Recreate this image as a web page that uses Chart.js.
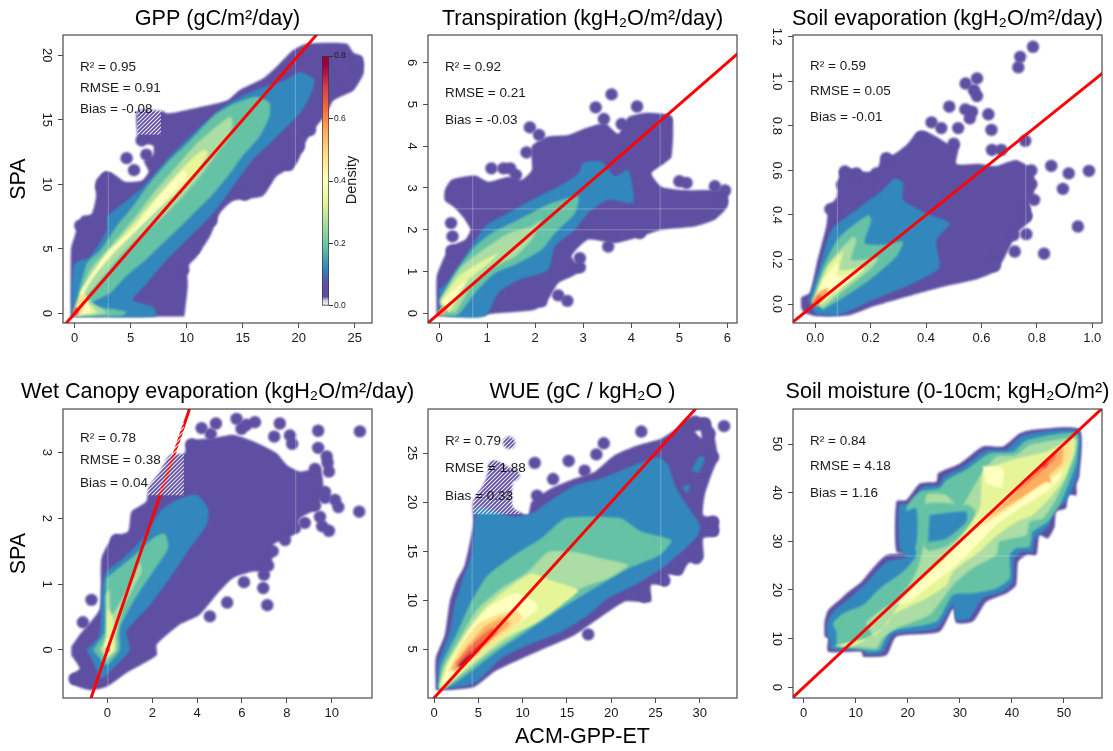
<!DOCTYPE html>
<html>
<head>
<meta charset="utf-8">
<title>ACM-GPP-ET vs SPA</title>
<script src="https://cdn.jsdelivr.net/npm/chart.js@4"></script>
<style>
  html, body { margin: 0; background: #fff; }
  #page { position: relative; width: 1113px; height: 751px; overflow: hidden; }
  canvas { position: absolute; }
</style>
</head>
<body>
<div id="page"></div>
<script>
// spectral density colours, low to high
const PURPLE = "#5E4FA2", BLUE = "#3288BD", TEAL = "#66C2A5", GREEN = "#ABDDA4", LIME = "#E6F598",
  CREAM = "#FFFFBF", SAND = "#FEE08B", ORANGE = "#FDAE61", EMBER = "#F46D43", RED = "#D53E4F", WINE = "#9E0142";

// 1:1 reference line
const oneToOne = [[-100, -100], [100, 100]];

// ---- GPP ----
const gppXTicks = ["0", "5", "10", "15", "20", "25"];
const gppYTicks = ["0", "5", "10", "15", "20"];
const gppStats = ["R² = 0.95", "RMSE = 0.91", "Bias = -0.08"];
const gppSeams = [3, 19.7];
const gppPurple = [[-0.33,-0.25],[-0.33,5],[0,6],[0.6,7.5],[1.5,7.7],[1.9,9],[1.9,10.3],[2.7,11],[3.5,10.8],[4.5,10.2],[6,10.3],[6.6,11],[6.2,11.8],[7,12.3],[7,13],[5.9,13.2],[5.6,13.9],[5.6,15.7],[7.7,15.7],[8.35,15.5],[11.2,16],[13.6,16.5],[14.7,17.3],[16.8,18.2],[18,19.1],[19.5,20.4],[20.7,20.9],[24.3,20.9],[24.9,20.2],[25.7,19.9],[25.8,18.6],[24.9,17.3],[23.1,16.5],[22.5,15.5],[21.6,14.5],[20.7,13.4],[19.8,11.6],[18,10.6],[16.8,9.1],[14.1,8.7],[13,7.8],[12.1,6],[10.9,4.4],[10.1,3.6],[10.1,2.1],[9.8,-0.23]];
const gppOutliers = [[4.64,12.03],[5.3,11.1],[5.98,13.4],[6.4,12.3],[0.5,6.8],[2.4,9.8],[2.9,10.5],[21,14.2],[20,12.9],[19.1,11.5],[17,10.4],[12.2,7.2],[10.7,5],[9.7,3.4],[24.4,17.7],[25.2,19.3],[15.2,9.2]];
const gppBlue = [[-0.3,-0.23],[7.3,-0.23],[7,0.5],[5.2,1.05],[6.4,2.3],[8.2,4.15],[10,5.7],[12.4,7.8],[14.1,9.8],[15.9,11.9],[17.7,13.4],[20.1,15.5],[21,16.8],[21.4,18.1],[20.1,18.7],[18.9,18.1],[17.1,17.6],[15.3,17],[13.3,16],[11.5,14.7],[9.7,13.2],[7.9,11.6],[6.1,9.8],[4.3,8.5],[2.9,7.5],[2.9,6.5],[1.4,4.4],[0,3.9],[-0.27,1.8]];
const gppTeal = [[0,0.4],[1.1,3.9],[2.3,4.9],[3.7,6.7],[5.2,8.3],[6.7,10.1],[8.5,11.9],[10.3,13.4],[12.4,15.3],[14.1,16.2],[16.2,16.8],[17.4,16.3],[17.4,15.3],[16.5,13.7],[15,12.2],[13.9,10.9],[12.4,9.3],[10.9,8],[9.4,6.7],[7.6,5.2],[6.4,4.2],[4.6,2.9],[3.2,1.6],[1.4,0.7],[4.6,0.15],[4.3,-0.18],[0.2,-0.23]];
const gppGreen = [[0.3,1.05],[1.4,3.4],[3.2,5.2],[5.2,7.25],[7,9.3],[8.8,11.1],[10.6,12.9],[12.4,14.3],[13.9,15.25],[14.1,14.9],[13.9,13.7],[12.7,12.4],[11.2,10.6],[9.7,9.1],[7.9,7.5],[5.8,6],[4,4.4],[2.3,2.6],[1.1,1.3],[2.3,0.4],[2.9,0.03],[0.5,-0.2],[-0.05,-0.1]];
const gppLime = [[0.5,1.6],[2,3.6],[3.7,5.4],[5.8,7.5],[7.9,9.6],[10,11.6],[11.5,12.7],[11.9,12.4],[10.6,10.6],[8.8,9.1],[7,7.8],[5.2,6.2],[3.2,4.4],[1.7,2.9],[0.8,1.3],[1.7,0.4],[2,0.03],[0.5,-0.1]];
const gppCream = [[0.6,1.8],[2.9,4.7],[5.2,6.5],[7.3,8.8],[9.7,11.1],[10,10.6],[7.9,8.5],[5.8,6.7],[3.4,4.7],[1.7,2.9],[0.8,1.6],[1.4,0.15],[0.3,-0.1]];
const gppSand = [[-0.1,0.2],[0.6,1.5],[1,1.4],[0.8,0.4],[0.6,-0.1],[0,-0.2]];
const gppRed = [[-0.15,0],[0.1,0.5],[0.4,0.2],[0.2,-0.15]];
const gppHatch = [[5.6,13.85],[7.7,13.85],[7.7,15.75],[5.6,15.75]];

// ---- Transpiration ----
const transXTicks = ["0", "1", "2", "3", "4", "5", "6"];
const transYTicks = ["0", "1", "2", "3", "4", "5", "6"];
const transStats = ["R² = 0.92", "RMSE = 0.21", "Bias = -0.03"];
const transSeams = [0.7, 4.6];
const transSeamsH = [2, 2.5];
const transPurple = [[-0.05,-0.07],[-0.05,0.88],[0.05,1.2],[0.23,1.6],[0.54,1.76],[0.65,2],[0.5,2.3],[0.3,2.55],[0.12,2.7],[0.12,2.95],[0.26,3.2],[0.75,3.3],[1.03,3.15],[1.44,3.27],[1.72,3.2],[1.93,3.43],[1.93,4],[2.27,4.23],[2.69,4.27],[3.04,4.43],[3.45,4.55],[3.73,4.3],[3.94,4.7],[4.35,4.8],[4.84,4.7],[4.84,3.75],[4.7,3.6],[4.42,3.35],[4.63,3.03],[5.1,2.95],[5.8,2.95],[6,2.88],[6,2.55],[5.74,2.24],[5.32,2.08],[4.63,2],[4.2,1.84],[3.66,1.68],[3.1,1.76],[2.76,1.36],[2.97,1.04],[2.76,0.88],[2.48,0.72],[2.27,0.33],[2,0.09],[1.16,0],[0.75,-0.07]];
const transOutliers = [[3.59,5.24],[3.26,4.93],[4.12,4.95],[3.43,4.65],[3.8,4.53],[4.73,4.61],[1.89,4.45],[2.08,4.27],[1.82,3.85],[1.09,3.47],[1.34,3.47],[1.48,3.47],[1.6,3.31],[0.25,2.16],[0.28,1.84],[0.26,1.5],[5,3.16],[5.15,3.12],[5.74,3.04],[5.95,2.94],[5.88,2.68],[3.52,1.6],[4.18,1.92],[2.93,1.32],[2.93,1.1],[2.48,0.43],[2.67,0.3],[2.13,0.29]];
const transBlue = [[0,0.57],[0.16,0.73],[0.54,1.36],[0.96,2.08],[1.44,2.4],[2.07,2.8],[2.62,3.12],[2.9,3.35],[3,3.6],[3.38,3.63],[3.66,3.28],[3.94,3.43],[4.04,2.64],[3.52,2.72],[3.1,2.4],[2.83,2],[2.41,1.6],[2.27,1.04],[1.65,0.8],[1.23,0.49],[0.96,-0.07],[0.16,-0.07],[0,0.1]];
const transTeal = [[0,0.29],[0.33,0.96],[0.75,1.6],[1.09,1.92],[1.65,2.24],[2.34,2.64],[2.9,2.8],[2.83,2.4],[2.41,1.92],[2.13,1.52],[1.65,1.2],[1.16,0.96],[0.75,0.49],[0.4,-0.03],[0.1,-0.07]];
const transGreen = [[0.02,0.33],[0.47,1.12],[0.96,1.56],[1.44,1.92],[1.93,2.08],[2.13,2.24],[1.93,1.76],[1.58,1.36],[1.03,1.04],[0.68,0.65],[0.33,0]];
const transLime = [[0.02,0.25],[0.4,0.88],[0.82,1.2],[1.23,1.44],[1.03,1.2],[0.54,0.73],[0.23,0]];
const transCream = [[0.06,0.29],[0.4,0.65],[0.6,0.8],[0.4,0.49],[0.16,0.09]];
const transSand = [[-0.04,0.03],[0.12,0.2],[0.15,0.02],[0.05,-0.06]];

// ---- Soil evaporation ----
const soilXTicks = ["0.0", "0.2", "0.4", "0.6", "0.8", "1.0"];
const soilYTicks = ["0.0", "0.2", "0.4", "0.6", "0.8", "1.0", "1.2"];
const soilStats = ["R² = 0.59", "RMSE = 0.05", "Bias = -0.01"];
const soilSeams = [0.08, 0.76];
const soilPurple = [[-0.05,-0.02],[-0.05,0.03],[-0.02,0.05],[0.005,0.18],[0.04,0.35],[0.05,0.44],[0.077,0.48],[0.09,0.6],[0.125,0.61],[0.167,0.595],[0.22,0.6],[0.245,0.67],[0.28,0.67],[0.33,0.715],[0.365,0.767],[0.4,0.775],[0.44,0.75],[0.48,0.72],[0.52,0.72],[0.51,0.63],[0.59,0.63],[0.65,0.62],[0.726,0.647],[0.786,0.6],[0.79,0.5],[0.774,0.45],[0.78,0.38],[0.73,0.32],[0.68,0.2],[0.65,0.146],[0.58,0.11],[0.47,0.08],[0.35,0.04],[0.21,-0.01],[0.125,-0.05],[0.005,-0.055],[-0.04,-0.04]];
const soilOutliers = [[0.786,1.155],[0.74,1.11],[0.733,1.063],[0.584,1.013],[0.543,0.99],[0.573,0.96],[0.584,0.934],[0.484,0.886],[0.542,0.874],[0.566,0.864],[0.558,0.834],[0.625,0.852],[0.636,0.782],[0.42,0.816],[0.455,0.79],[0.516,0.79],[0.638,0.692],[0.672,0.692],[0.758,0.733],[0.852,0.62],[0.915,0.587],[0.988,0.598],[0.894,0.517],[0.948,0.348],[0.826,0.226],[0.72,0.236],[0.762,0.314],[0.716,0.31],[0.756,0.423],[0.762,0.396],[0.654,0.228],[0.648,0.172],[0.383,0.752],[0.257,0.655],[0.221,0.587],[0.185,0.55],[0.149,0.587],[0.107,0.595],[0.097,0.535],[0.055,0.426],[0.5,0.72],[0.78,0.6],[0.78,0.538],[0.79,0.468]];
const soilBlue = [[-0.025,0.012],[0.017,0.169],[0.059,0.333],[0.149,0.423],[0.245,0.513],[0.287,0.565],[0.317,0.543],[0.317,0.468],[0.4,0.408],[0.486,0.363],[0.4375,0.288],[0.45,0.169],[0.425,0.139],[0.329,0.079],[0.209,0.019],[0.089,-0.048],[0.005,-0.048]];
const soilTeal = [[-0.013,0.012],[0.029,0.169],[0.089,0.303],[0.191,0.4],[0.203,0.378],[0.179,0.274],[0.245,0.266],[0.317,0.281],[0.293,0.214],[0.197,0.109],[0.089,0.019],[0.029,-0.025]];
const soilGreen = [[-0.01,0.012],[0.04,0.169],[0.137,0.303],[0.149,0.288],[0.131,0.199],[0.227,0.206],[0.197,0.154],[0.1,0.057],[0.029,-0.018]];
const soilLime = [[-0.005,0.012],[0.047,0.169],[0.1,0.236],[0.089,0.154],[0.179,0.161],[0.089,0.064],[0.023,-0.003]];
const soilCream = [[0,0.02],[0.029,0.109],[0.083,0.184],[0.077,0.124],[0.161,0.146],[0.077,0.064],[0.017,0.012]];
const soilSand = [[-0.012,0.012],[0.017,0.057],[0.047,0.072],[0.04,0.04],[0.017,0.012],[0,-0.01]];
const soilEmber = [[-0.01,0.005],[0.012,0.04],[0.03,0.03],[0.012,0],[0,-0.01]];

// ---- Wet canopy evaporation ----
const wetXTicks = ["0", "2", "4", "6", "8", "10"];
const wetYTicks = ["0", "1", "2", "3"];
const wetStats = ["R² = 0.78", "RMSE = 0.38", "Bias = 0.04"];
const wetSeams = [0.02, 8.4];
const wetPurple = [[-1.61,0.05],[-1.24,0.23],[-0.34,0.63],[-0.27,1.39],[0.25,1.72],[0.92,1.8],[1.07,2.1],[1.74,2.26],[1.82,2.46],[2.34,2.71],[2.78,2.96],[3.45,2.99],[3.53,3.17],[4.72,3.22],[5.6,3.27],[6.5,3.17],[7.54,2.99],[8,2.81],[8.6,2.71],[9.48,2.76],[9.63,2.46],[9.33,2.15],[8.6,2],[8.3,1.75],[7.4,1.6],[7.4,1.44],[7.1,1.19],[6.5,1.19],[5.6,1.09],[5,0.89],[4.1,0.53],[3.2,0.38],[2.2,0.08],[2.2,-0.08],[0.85,-0.35],[-0.04,-0.56],[-0.79,-0.61],[-1.61,-0.51],[-1.61,-0.38],[-1.24,-0.28],[-1.61,-0.08]];
const wetOutliers = [[5.76,3.51],[4.84,3.44],[4.2,3.37],[4.61,3.28],[5.98,3.36],[6.2,3.42],[6.58,3.46],[7.69,3.44],[7.44,3.24],[8.14,3.26],[8.24,3.13],[9.4,3.33],[11.26,3.32],[11.23,2.1],[9.4,3.07],[9.78,2.94],[9.82,2.84],[9.88,2.71],[9.26,2.75],[9.7,2.4],[9.7,2.31],[10.15,2.28],[10.3,2.17],[9.26,2.19],[9.48,2.02],[9.58,1.88],[9.88,1.81],[8.8,1.93],[8.36,1.85],[7.92,1.67],[7.37,1.5],[7.17,1.28],[6.98,1.14],[6.95,0.94],[6.09,1.03],[7.13,0.68],[5.34,0.72],[4.57,0.51],[3.76,3.12],[-0.71,0.76],[-1.09,0.42],[0.4,1.67],[-1.46,-0.44]];
const wetBlue = [[-0.94,0],[-0.34,0.23],[-0.27,0.89],[-0.04,1.19],[0.7,1.39],[1.59,1.7],[2.34,2.1],[3.08,2.28],[3.97,2.36],[4.49,2.15],[4.42,1.9],[3.68,1.55],[2.78,1.09],[1.89,0.68],[0.85,0.28],[1,0],[0.25,-0.28],[-0.27,-0.43],[-0.64,-0.18]];
const wetTeal = [[-0.64,0],[-0.12,0.28],[-0.07,0.99],[-0.04,1.09],[1.15,1.42],[2.04,1.7],[2.56,1.77],[2.71,1.55],[2.04,1.19],[1.15,0.73],[0.55,0.33],[0.55,0],[-0.04,-0.23],[-0.34,-0.13]];
const wetGreen = [[-0.34,0],[-0.07,0.18],[-0.07,0.84],[0.1,0.91],[0.18,0.53],[1.15,1.09],[1.44,1.34],[1.52,1.19],[0.7,0.63],[0.4,0.18],[0.4,0],[-0.01,-0.15]];
const wetLime = [[-0.19,0],[-0.04,0.23],[0.03,0.63],[0.25,0.48],[0.33,0],[-0.01,-0.1]];
const wetCream = [[-0.12,0],[-0.01,0.18],[0.15,0.1],[0.2,0],[0,-0.08]];
const wetRed = [[-0.1,0],[0,0.05],[0.12,0],[0,-0.05]];
const wetHatch = [[1.7,2.35],[3.41,2.35],[3.41,3.45],[1.7,3.45]];

// ---- WUE ----
const wueXTicks = ["0", "5", "10", "15", "20", "25", "30"];
const wueYTicks = ["5", "10", "15", "20", "25"];
const wueStats = ["R² = 0.79", "RMSE = 1.88", "Bias = 0.33"];
const wueSeams = [4.3, 25.6];
const wuePurple = [[0.19,0.82],[0.19,4.05],[1.2,6.43],[1.77,9.83],[2.5,11.87],[3.46,13.57],[4.4,17.65],[4.4,20],[5.72,22.07],[6.47,24.1],[7.4,24.1],[9.67,22.75],[8.9,22.07],[8.9,19.5],[10.6,18.67],[11,20],[13.25,21.4],[15.9,22.4],[18.14,23.1],[20.4,24.8],[23,25.8],[25.67,26.5],[27.36,27.5],[28.5,28.5],[30.94,28.5],[31.7,26.5],[32,24.45],[31.3,22.75],[30.56,20.7],[30.4,18.67],[32,18.3],[32,16.6],[30.4,16.3],[30.4,14.25],[28.7,13.74],[27.9,12.55],[26.4,12.55],[26.4,11.53],[24.5,11.53],[24.5,9.83],[23,9.83],[21.5,9.83],[18.1,7.8],[15.9,6.43],[12.1,4.9],[9.1,3.7],[6.85,2.7],[4.6,1.16],[1.96,0.82]];
const wueOutliers = [[32.74,27.75],[11.37,24],[15.2,24.2],[18.33,24.87],[19.16,26],[23.4,27.2],[13.44,22.35],[11.63,20.65],[17,23.2],[17.4,6.5],[23.7,10.34],[26,12],[27.4,13.2],[29.6,14.25],[31.5,18],[31.5,17.1],[8.47,26.05],[6.77,23.6],[8.9,22.75],[29.43,28.2],[30.56,28],[31.1,27],[31.5,24.6],[30.56,23.27]];
const wueHole = [[29.4,27.2],[30.2,26.5],[30.1,27.3]];
const wueBlue = [[0.45,0.82],[0.45,3.4],[1.77,6.77],[2.33,9.5],[3.27,12.2],[4.2,14.6],[4.6,18.33],[5,19.5],[9.1,18.5],[11.4,19],[12.87,20],[15.9,21.7],[18.9,22.4],[22.66,23.8],[25.3,24.6],[26.4,23.8],[27.2,21.7],[28.3,20],[30,17.65],[29.8,16.6],[27.9,14.9],[25.67,13.2],[22.66,11.53],[19.65,10.17],[17.4,8.47],[14.4,6.77],[10.6,5.4],[7.6,4.05],[4.6,1.5],[1.96,1]];
const wueBlueSpotA = [[29,23.2],[30,24.7],[30.6,24.5],[29.9,23]];
const wueBlueSpotB = [[28,21.5],[28.9,21.8],[28.6,20.8]];
const wueTeal = [[0.45,1],[0.83,3.37],[2.5,6.43],[4.2,9.83],[6.1,12.55],[9.1,14.6],[12.1,16.3],[14.75,18.33],[17.76,18.5],[21.15,18.33],[23.4,17],[26.8,16.1],[25.5,14.6],[21.9,13.2],[18.1,11.2],[14.4,9.15],[11,7.1],[7.6,5.07],[4.6,3],[2.33,1.5],[0.83,0.82]];
const wueGreen = [[0.53,1],[1,3],[3.1,6.43],[5,9.15],[7.6,11.2],[10.6,12.9],[12.9,14.9],[15.9,14.9],[18.9,14.25],[21.9,13.57],[19.65,12.2],[16.6,11.2],[13.25,8.8],[9.86,6.77],[6.47,4.73],[3.1,2.35],[1,0.82]];
const wueLime = [[0.64,1.16],[1.4,3.37],[3.46,6.43],[5.7,9.15],[8.36,11.2],[11,12.7],[13.25,12],[16.26,11],[14.4,9.5],[11.4,7.6],[8,6.1],[4.6,3.7],[2.33,2],[0.83,1]];
const wueCream = [[0.83,1.33],[1.6,3.37],[3.84,6.77],[6.1,9.15],[9.1,10.68],[11.4,9.83],[11.74,9.15],[9.5,7.6],[6.1,5.75],[3.84,3.7],[1.77,1.84]];
const wueSand = [[1.6,2.7],[3.1,5.4],[5,7.6],[7.6,8.64],[9.5,8.8],[10,8.13],[8.36,6.77],[5.34,4.73],[2.7,2.7]];
const wueOrange = [[1.96,3.03],[3.84,5.4],[5.7,7.28],[8,8.3],[8.54,7.45],[6.47,6.1],[3.84,4.05],[2.33,2.7]];
const wueEmber = [[2.33,3.37],[4.2,5.4],[6.47,7.1],[7.2,6.77],[5.7,5.4],[3.46,3.7]];
const wueRed = [[2.5,3.2],[4.6,5.07],[5.5,5.75],[5,4.73],[3.1,3.2]];
const wueWine = [[2.7,3.2],[4.2,4.56],[3.46,3.37]];
const wueHatch = [[4.4,18.75],[9.67,18.75],[9.67,26.7],[4.4,26.7]];

// ---- Soil moisture ----
const moistXTicks = ["0", "10", "20", "30", "40", "50"];
const moistYTicks = ["0", "10", "20", "30", "40", "50"];
const moistStats = ["R² = 0.84", "RMSE = 4.18", "Bias = 1.16"];
const moistSeamsH = [27];
const moistPurple = [[4,10.4],[4,13.5],[4.7,15.9],[6.9,18],[8.2,19.3],[11.1,21.7],[13.3,24.5],[15.9,27.2],[20.4,27.5],[17.8,27.9],[17.8,38.2],[19.7,38.5],[22.3,41.9],[25.5,42.3],[25.8,44],[30,46],[34.4,49.5],[38.3,49.5],[41.5,52.2],[43.7,52.9],[53,53],[53,43.6],[52.4,41.6],[52.4,39.5],[50.8,39.5],[50.4,36.8],[48.5,36.1],[48.2,33],[46.9,30.6],[45.3,31.3],[44.7,27.2],[42.8,27.2],[41.2,25.8],[40.8,21],[38.9,19.3],[35.1,17.6],[32.5,13.5],[29.3,13.2],[28.7,16.2],[26.1,11.4],[17.8,10.4],[15.9,6.6],[11.4,6.3],[11.1,7.3],[4.7,7.3],[4.7,10.1]];
const moistBlue = [[4.5,10.75],[4.5,13.15],[5.6,15.5],[8.8,18.3],[12,21.4],[15.9,25.8],[19.7,26.8],[18.4,28.6],[18.4,37.5],[20.4,37.8],[22.9,41.2],[26.1,41.6],[26.8,43.3],[30.6,45.3],[35.1,48.8],[38.9,48.8],[42.1,51.8],[52.7,52.7],[52.7,44.3],[51.7,40.9],[50.1,37.8],[48.2,36.8],[47.2,33.4],[46,32],[44.4,30.6],[44,27.9],[42.1,27.9],[40.5,26.5],[40.2,21.7],[38.3,19.7],[34.4,18.3],[31.9,14.2],[29.3,13.8],[28.7,16.9],[25.5,12.1],[17.2,10.9],[15.2,7.2],[12,6.8],[11.4,7.9],[5.3,7.7],[5,9.7]];
const moistTeal = [[6.3,11.4],[5.6,13.15],[7.6,15.2],[11.4,16.9],[14.6,20.3],[19.1,23.8],[21.6,27.2],[19.7,36.8],[22.3,40.2],[26.1,40.9],[27.4,42.6],[31.2,44.7],[35.7,48.1],[40.2,48.4],[42.8,50.8],[52.4,52.2],[52.4,46.4],[50.8,41.6],[49.2,37.5],[46.9,34],[44,32],[43.4,28.9],[40.8,28.6],[39.6,27.2],[39.6,22.4],[37,20.3],[32.5,19.3],[28.7,19],[25.5,13.5],[16.5,11.4],[14.6,7.7],[12.7,7.5],[6.3,8.4]];
const moistPatchTeal = [[23,29],[23,37.5],[31.5,37.5],[33,36],[32,33],[27.5,29],[24,28]];
const moistPatchA = [[19.4,36.1],[21.6,36.8],[21.6,29.2],[19.1,28.6]];
const moistPatchB = [[24.2,35.4],[31.2,36.1],[31.2,34],[27.4,30.6],[23.9,29.9]];
const moistGreen = [[6.3,8.7],[13.3,10.4],[12,13.2],[15.2,16.2],[17.8,17.6],[21,22.4],[22.3,25.8],[23.2,30.6],[23.6,39.5],[27.4,39.5],[30,36.8],[32.5,40.9],[34.4,44.3],[37,47.4],[40.8,47.7],[43.4,49.8],[52.4,51.2],[52,47.7],[50.1,42.3],[48.2,38.2],[46,34.7],[43.4,34],[42.8,31.3],[40.2,30.6],[37.6,29.9],[37,27.2],[32.5,24.5],[28.7,21],[24.2,14.9],[17.8,12.1],[15.2,10.1],[14,8]];
const moistLime = [[5.6,8.4],[12,10.1],[15.9,12.8],[17.8,16.2],[21.6,21],[25.5,25.1],[30,30.6],[33.8,36.8],[34.4,44.3],[37,45.7],[40.8,47],[46.6,48.4],[51.9,51.2],[52,48.4],[50.1,43],[47.2,38.8],[44,35.4],[40.8,34],[36.4,30.6],[33.8,27.9],[28.7,23.8],[27.4,21],[23.6,18.3],[17.2,14.9],[14.6,11.4],[9.5,8.4]];
const moistCream = [[17.8,16.9],[22.3,21.7],[26.8,25.8],[31.9,32],[36.4,36.8],[41.5,40.9],[45.3,45],[49.8,47.7],[49.2,43],[46.6,40.2],[41.5,36.8],[37,33.4],[33.2,29.2],[28.7,24.5],[23.6,20.3],[20.4,17.6]];
const moistCreamPatch = [[34.4,45.5],[38.3,45],[38,41],[35,42]];
const moistSand = [[32.5,32],[38.3,37.8],[44,43.6],[51.1,50.8],[51.4,47.7],[49.2,44.3],[44.7,40.9],[38.9,36.4]];
const moistOrange = [[35.1,34.7],[39.6,38.8],[45.3,45],[49.8,49.1],[49.5,46],[47.2,43.6],[47.6,41.9],[46.6,42.3],[41.5,38.8]];
const moistEmber = [[37.6,37.1],[42.8,42.3],[48.5,48.4],[48.2,47],[44,42.9]];
const moistRed = [[45.6,45.3],[46.9,47],[46.6,45.3]];

// ---- colour bar ----
const colorBarTicks = ["0.0", "0.2", "0.4", "0.6", "0.8"];
const colorBarLevels = [0, 0.018, 0.03, 0.07, 0.12, 0.19, 0.265, 0.335, 0.405, 0.48, 0.555, 0.63, 0.7, 0.77, 0.8];
const colorBarColors = ["#ffffff", "#cfc9e4", PURPLE, PURPLE, BLUE, TEAL, GREEN, LIME, CREAM, SAND, ORANGE, EMBER, RED, WINE, WINE];

const WHITE_HOLE = "#ffffff";

const panels = [
  { title: "GPP (gC/m²/day)", left: 0, top: 0, height: 350, xLim: [-1.04, 26.54], yLim: [-0.74, 21.57],
    xTicks: gppXTicks, yTicks: gppYTicks, stats: gppStats, statsY: [67, 88, 109], yPad: 3.7, yTitle: "SPA",
    bands: [[gppPurple, PURPLE], [gppOutliers, null], [gppBlue, BLUE], [gppTeal, TEAL], [gppGreen, GREEN], [gppLime, LIME], [gppCream, CREAM], [gppSand, SAND], [gppRed, RED]],
    seams: gppSeams, hatch: gppHatch },
  { title: "Transpiration (kgH₂O/m²/day)", left: 365, top: 0, height: 350, xLim: [-0.23, 6.2], yLim: [-0.23, 6.66],
    xTicks: transXTicks, yTicks: transYTicks, stats: transStats, statsY: [67, 93, 120], yPad: 7.4,
    bands: [[transPurple, PURPLE], [transOutliers, null], [transBlue, BLUE], [transTeal, TEAL], [transGreen, GREEN], [transLime, LIME], [transCream, CREAM], [transSand, ORANGE]],
    seams: transSeams, seamsH: transSeamsH },
  { title: "Soil evaporation (kgH₂O/m²/day)", left: 730, top: 0, height: 350, xLim: [-0.08, 1.035], yLim: [-0.085, 1.208],
    xTicks: soilXTicks, yTicks: soilYTicks, stats: soilStats, statsY: [66, 91, 117], yPad: 2,
    bands: [[soilPurple, PURPLE], [soilOutliers, null], [soilBlue, BLUE], [soilTeal, TEAL], [soilGreen, GREEN], [soilLime, LIME], [soilCream, CREAM], [soilSand, ORANGE], [soilEmber, EMBER]],
    seams: soilSeams },
  { title: "Wet Canopy evaporation (kgH₂O/m²/day)", left: 0, top: 375, height: 376, xLim: [-1.98, 11.8], yLim: [-0.73, 3.66],
    xTicks: wetXTicks, yTicks: wetYTicks, stats: wetStats, statsY: [438, 460, 483], yPad: 7.4, yTitle: "SPA",
    bands: [[wetPurple, PURPLE], [wetOutliers, null], [wetBlue, BLUE], [wetTeal, TEAL], [wetGreen, GREEN], [wetLime, LIME], [wetCream, CREAM], [wetRed, RED]],
    seams: wetSeams, hatch: wetHatch },
  { title: "WUE (gC / kgH₂O )", left: 365, top: 375, height: 376, xLim: [-0.68, 34.2], yLim: [0, 29.5],
    xTicks: wueXTicks, yTicks: wueYTicks, stats: wueStats, statsY: [441, 468, 496], yPad: 3.7, xTitle: "ACM-GPP-ET",
    bands: [[wuePurple, PURPLE], [wueOutliers, null], [wueHole, WHITE_HOLE], [wueBlueSpotA, BLUE], [wueBlueSpotB, BLUE], [wueBlue, BLUE], [wueTeal, TEAL], [wueGreen, GREEN], [wueLime, LIME], [wueCream, CREAM], [wueSand, SAND], [wueOrange, ORANGE], [wueEmber, EMBER], [wueRed, RED], [wueWine, WINE]],
    seams: wueSeams, hatch: wueHatch },
  { title: "Soil moisture (0-10cm; kgH₂O/m²)", left: 730, top: 375, height: 376, xLim: [-2.05, 57.3], yLim: [-2.2, 57.2],
    xTicks: moistXTicks, yTicks: moistYTicks, stats: moistStats, statsY: [441, 466, 493], yPad: 3.7,
    bands: [[moistPurple, PURPLE], [moistBlue, BLUE], [moistTeal, TEAL], [moistGreen, GREEN], [moistPatchTeal, TEAL], [moistPatchA, BLUE], [moistPatchB, BLUE], [moistLime, LIME], [moistCream, CREAM], [moistCreamPatch, CREAM], [moistSand, SAND], [moistOrange, ORANGE], [moistEmber, EMBER], [moistRed, RED]],
    seamsH: moistSeamsH }
];

Chart.defaults.font.family = "'Liberation Sans', Arial, sans-serif";
Chart.defaults.color = "#1a1a1a";

const page = document.getElementById("page");

function addCanvas(left, top, width, height) {
  const canvas = document.createElement("canvas");
  canvas.width = width;
  canvas.height = height;
  canvas.style.left = left + "px";
  canvas.style.top = top + "px";
  canvas.style.width = width + "px";
  canvas.style.height = height + "px";
  page.appendChild(canvas);
  return canvas;
}

const toXY = pairs => pairs.map(p => ({ x: p[0], y: p[1] }));

// white stripes laid over the plot, like the rough patches behind the stats text
function hatchPattern() {
  const tile = document.createElement("canvas");
  tile.width = tile.height = 4;
  const c = tile.getContext("2d");
  c.strokeStyle = "rgba(255,255,255,0.9)";
  c.lineWidth = 1.1;
  c.beginPath();
  c.moveTo(-1, 5); c.lineTo(5, -1);
  c.moveTo(-1, 1); c.lineTo(1, -1);
  c.moveTo(3, 5); c.lineTo(5, 3);
  c.stroke();
  return c.createPattern(tile, "repeat");
}

function polygon(points, color) {
  return { data: toXY(points), showLine: true, fill: "shape", backgroundColor: color, borderWidth: 0, pointRadius: 0, tension: 0.2 };
}

function buildDatasets(panel) {
  const sets = panel.bands.map(([points, color]) =>
    color ? polygon(points, color)
      : { data: toXY(points), showLine: false, pointRadius: 6.2, backgroundColor: PURPLE, borderWidth: 0 });
  sets[sets.length - 1].endBlur = true;
  const seam = data => ({ data: toXY(data), showLine: true, borderColor: "rgba(255,255,255,0.28)", borderWidth: 1, pointRadius: 0 });
  (panel.seams || []).forEach(x => sets.push(seam([[x, panel.yLim[0]], [x, panel.yLim[1]]])));
  (panel.seamsH || []).forEach(y => sets.push(seam([[panel.xLim[0], y], [panel.xLim[1], y]])));
  sets.push({ data: toXY(oneToOne), showLine: true, borderColor: "#FA0505", borderWidth: 3, pointRadius: 0 });
  if (panel.hatch) {
    const h = polygon(panel.hatch, hatchPattern());
    h.tension = 0;
    sets.push(h);
  }
  return sets.reverse(); // first dataset is painted last
}

// blur the density bands a little, they come from a resampled image in the original
const softBands = {
  id: "softBands",
  beforeDatasetsDraw(chart) { chart.ctx.filter = "blur(0.8px)"; },
  afterDatasetDraw(chart, args) {
    if (chart.data.datasets[args.index].endBlur) chart.ctx.filter = "none";
  }
};

// box round the plot plus the R2 / RMSE / Bias lines
const frameAndStats = {
  id: "frameAndStats",
  afterDatasetsDraw(chart, args, opts) {
    const { ctx, chartArea: a } = chart;
    ctx.save();
    ctx.filter = "none";
    ctx.strokeStyle = "#4a4a4a";
    ctx.lineWidth = 1.2;
    ctx.strokeRect(a.left, a.top, a.right - a.left, a.bottom - a.top);
    ctx.fillStyle = "#1a1a1a";
    ctx.font = "13.5px 'Liberation Sans', Arial, sans-serif";
    ctx.textBaseline = "middle";
    opts.lines.forEach((line, i) => ctx.fillText(line, 80, opts.ys[i] - opts.top));
    ctx.restore();
  }
};

panels.forEach(panel => {
  const canvas = addCanvas(panel.left, panel.top, 435, panel.height);
  const tickFont = { size: 13 };
  new Chart(canvas, {
    type: "scatter",
    data: { datasets: buildDatasets(panel) },
    plugins: [softBands, frameAndStats],
    options: {
      responsive: false,
      animation: false,
      devicePixelRatio: 1,
      events: [],
      plugins: {
        legend: { display: false },
        tooltip: { enabled: false },
        title: {
          display: true,
          text: panel.title,
          color: "#000",
          font: { size: 21.6, weight: "normal", lineHeight: 1.2 },
          padding: panel.top ? { top: 4, bottom: 4.1 } : { top: 6, bottom: 3.1 }
        },
        frameAndStats: { lines: panel.stats, ys: panel.statsY, top: panel.top }
      },
      scales: {
        x: {
          type: "linear",
          min: panel.xLim[0],
          max: panel.xLim[1],
          afterBuildTicks: s => { s.ticks = panel.xTicks.map(t => ({ value: +t })); },
          afterFit: s => { s.height = panel.height - 323; },
          grid: { drawOnChartArea: false, tickLength: 5, tickColor: "#4a4a4a" },
          border: { display: false },
          ticks: { font: tickFont, padding: 3, autoSkip: false, maxRotation: 0, callback: (v, i) => panel.xTicks[i] },
          title: panel.xTitle
            ? { display: true, text: panel.xTitle, color: "#000", font: { size: 21.5 }, padding: { top: 0, bottom: 1 } }
            : { display: false }
        },
        y: {
          type: "linear",
          min: panel.yLim[0],
          max: panel.yLim[1],
          afterBuildTicks: s => { s.ticks = panel.yTicks.map(t => ({ value: +t })); },
          afterFit: s => { s.width = 63; },
          grid: { drawOnChartArea: false, tickLength: 5, tickColor: "#4a4a4a" },
          border: { display: false },
          ticks: { font: tickFont, padding: panel.yPad, autoSkip: false, minRotation: -90, crossAlign: "center", callback: (v, i) => panel.yTicks[i] },
          title: panel.yTitle
            ? { display: true, text: panel.yTitle, color: "#000", font: { size: 21.5 }, padding: { top: 6, bottom: 0 } }
            : { display: false }
        },
        // empty axis on the right so the title centres over the plot box
        spacer: {
          type: "linear",
          position: "right",
          display: true,
          afterFit: s => { s.width = 63; },
          grid: { display: false },
          border: { display: false },
          ticks: { display: false }
        }
      }
    }
  });
});

// colour bar sits on top of the GPP panel
const barGradient = ctx => {
  const { chart } = ctx;
  if (!chart.chartArea) return PURPLE;
  const g = chart.ctx.createLinearGradient(0, chart.chartArea.bottom, 0, chart.chartArea.top);
  colorBarLevels.forEach((level, i) => g.addColorStop(level / 0.8, colorBarColors[i]));
  return g;
};

const densityLabel = {
  id: "densityLabel",
  afterDraw(chart) {
    const { ctx } = chart;
    ctx.save();
    ctx.translate(31, 130);
    ctx.rotate(-Math.PI / 2);
    ctx.fillStyle = "#1a1a1a";
    ctx.font = "14.5px 'Liberation Sans', Arial, sans-serif";
    ctx.textAlign = "center";
    ctx.textBaseline = "middle";
    ctx.fillText("Density", 0, 0);
    ctx.restore();
  }
};

new Chart(addCanvas(321, 50, 50, 262), {
  type: "bar",
  data: {
    labels: ["Density"],
    datasets: [{ data: [[0, 0.8]], backgroundColor: barGradient, borderColor: "#333", borderWidth: 1, borderSkipped: false, barPercentage: 1, categoryPercentage: 1 }]
  },
  plugins: [densityLabel],
  options: {
    responsive: false,
    animation: false,
    devicePixelRatio: 1,
    events: [],
    layout: { padding: { left: 1, top: 6, bottom: 6 } },
    plugins: { legend: { display: false }, tooltip: { enabled: false } },
    scales: {
      x: { display: false },
      y: {
        position: "right",
        min: 0,
        max: 0.8,
        afterBuildTicks: s => { s.ticks = colorBarTicks.map(t => ({ value: +t })); },
        afterFit: s => { s.width = 42; },
        grid: { drawOnChartArea: false, tickLength: 4, tickColor: "#333" },
        border: { display: false },
        ticks: { font: { size: 8.5 }, padding: 1, autoSkip: false, callback: (v, i) => colorBarTicks[i] }
      }
    }
  }
});
</script>
</body>
</html>
